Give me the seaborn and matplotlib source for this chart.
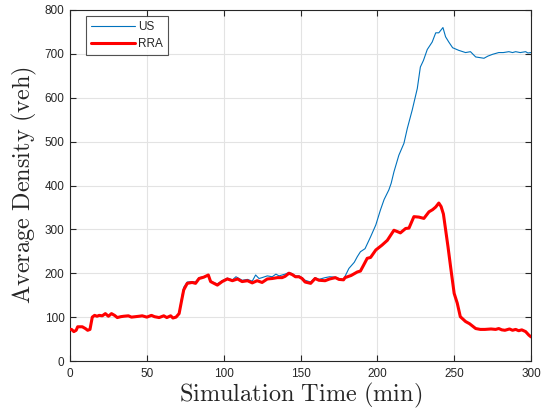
import numpy as np
import pandas as pd
import matplotlib
matplotlib.use("Agg")
import matplotlib.pyplot as plt
import seaborn as sns

# ---- data ----
rra_t = [0, 1, 2.5, 4, 5, 8, 10, 11.5, 13, 14.5, 16, 17.6, 19, 21, 23, 25, 27, 29, 30.8, 33, 35, 38, 40,
         42.5, 45, 47, 50, 53, 55, 58, 61, 63, 65.5, 67, 69, 71, 72.7, 74, 76.3, 79.5, 81.7, 84, 87, 90,
         91.5, 93.7, 95.9, 99, 102.4, 105.7, 109, 112, 115.5, 118.6, 121.8, 125, 128.4, 131.6, 135, 138,
         140, 142.5, 144.6, 146.7, 149, 151, 153, 156.6, 159.5, 162, 166, 169, 172.7, 175, 178, 179, 183,
         187, 189, 191, 193.4, 195.6, 199, 203, 206.5, 210.8, 213, 215, 218.4, 220.6, 223.8, 227, 230.3,
         233.6, 236, 238, 240, 241.5, 243, 244.4, 246, 247.7, 249, 250, 252, 254, 257.4, 260, 264, 267,
         270, 274, 277, 279, 281, 283, 286, 288, 290, 292, 294, 296.5, 298.6, 300]
rra_v = [72, 72, 67, 70, 78, 78, 74, 70, 72, 100, 104, 102, 104, 103, 108, 102, 108, 104, 99, 101, 102, 103, 100,
         101, 102, 103, 100, 104, 101, 99, 103, 99, 103, 98, 100, 108, 139, 162, 177, 179, 177, 188, 191, 196,
         181, 177, 173, 181, 187, 183, 187, 181, 183, 178, 183, 179, 187, 188, 190, 190,
         193, 200, 197, 192, 192, 188, 180, 177, 188, 184, 183, 187, 190, 186, 185, 190, 195,
         203, 205, 218, 234, 236, 253, 264, 275, 298, 295, 292, 302, 303, 329, 328, 325,
         340, 345, 351, 360, 352, 335, 300, 260, 214, 180, 154, 132, 101, 90, 85, 74, 72,
         72, 73, 72, 74, 71, 70, 73, 70, 72, 69, 71, 67, 59, 55]

us_t = [0, 1, 2.5, 4, 5, 8, 10, 11.5, 13, 14.5, 16, 17.6, 19, 21, 23, 25, 27, 29, 30.8, 33, 35, 38, 40,
        42.5, 45, 47, 50, 53, 55, 58, 61, 63, 65.5, 67, 69, 71, 72.7, 74, 76.3, 79.5, 81.7, 84, 87, 90,
        91.5, 93.7, 95.9, 99, 102.4, 105.7, 108, 112, 115.5, 118.6, 120.8, 123, 125, 128.4, 131.6, 134, 136,
        138, 140, 142.5, 144.6, 146.7, 149, 151, 153, 156.6, 159.5, 162, 166, 169, 172.7, 175, 178, 181.5,
        185, 187, 189, 192, 195.6, 199, 202, 204.4, 207.5, 209, 210.8, 214, 217.3, 219.5, 222.7, 226, 228,
        230, 232.5, 235.7, 238, 240, 242.7, 244.4, 246.5, 249, 253, 257.4, 260.6, 264, 269.4, 272, 275, 279,
        282, 285.6, 288, 290, 293, 296.5, 298, 300]
us_v = [72, 72, 67, 70, 78, 78, 74, 70, 72, 100, 104, 102, 104, 103, 108, 102, 108, 104, 99, 101, 102, 103, 100,
        101, 102, 103, 100, 104, 101, 99, 103, 99, 103, 98, 100, 110, 145, 168, 180, 181, 180, 190, 192, 196,
        183, 178, 176, 183, 189, 185, 192, 184, 186, 182, 196, 188, 190, 194, 192, 198, 194,
        196, 198, 202, 199, 194, 194, 190, 184, 180, 190, 186, 190, 192, 191, 188, 186, 211,
        225, 238, 249, 256, 283, 310, 344, 368, 390, 405, 431, 469, 496, 530, 572, 621, 670,
        685, 710, 727, 748, 748, 760, 739, 727, 714, 708, 703, 705, 693, 690, 695, 699, 703,
        703, 705, 703, 705, 703, 705, 702, 703]

series_names = ["US", "RRA"]
x_ticks = [0, 50, 100, 150, 200, 250, 300]
y_ticks = [0, 100, 200, 300, 400, 500, 600, 700, 800]

# ---- style ----
sns.set_theme(style="whitegrid")
plt.rcParams["font.family"] = ["Liberation Sans", "DejaVu Sans"]
plt.rcParams["mathtext.fontset"] = "cm"

fig = plt.figure(figsize=(5.51, 4.13), dpi=100)
fig.patch.set_facecolor("white")
ax = fig.add_axes([70 / 551, 1 - 361 / 413, 461 / 551, 351 / 413])
ax.set_facecolor("white")

df_us = pd.DataFrame({"t": us_t, "v": us_v})
df_rra = pd.DataFrame({"t": rra_t, "v": rra_v})
sns.lineplot(data=df_us, x="t", y="v", ax=ax, color="#0072BD", linewidth=0.8,
             estimator=None, sort=False, label=series_names[0], zorder=3)
sns.lineplot(data=df_rra, x="t", y="v", ax=ax, color="#FF0000", linewidth=2.2,
             estimator=None, sort=False, label=series_names[1], zorder=4)

ax.set_xlim(0, 300)
ax.set_ylim(0, 800)
ax.set_xticks(x_ticks)
ax.set_yticks(y_ticks)
ax.grid(True, color="#e3e3e3", linewidth=0.8)
for s in ax.spines.values():
    s.set_visible(True)
    s.set_color("#262626")
    s.set_linewidth(0.8)
ax.tick_params(axis="both", which="both", direction="in", length=4, width=0.8,
               color="#262626", labelsize=8.5, labelcolor="#262626",
               top=True, right=True, bottom=True, left=True)
ax.tick_params(axis="x", pad=5)
ax.tick_params(axis="y", pad=4)

ax.set_xlabel(r"$\mathrm{Simulation\ Time\ (min)}$", fontsize=17.5, color="#262626", labelpad=1)
ax.set_ylabel(r"$\mathrm{Average\ Density\ (veh)}$", fontsize=17.5, color="#262626", labelpad=4)

leg = ax.legend(loc="upper left", bbox_to_anchor=(0.035, 0.983), frameon=True, fancybox=False,
                edgecolor="#262626", fontsize=8.5, handlelength=3.7, borderpad=0.4,
                labelspacing=0.45, handletextpad=0.3, borderaxespad=0)
leg.get_frame().set_linewidth(0.8)

fig.savefig("out.png", dpi=100, facecolor="white")
